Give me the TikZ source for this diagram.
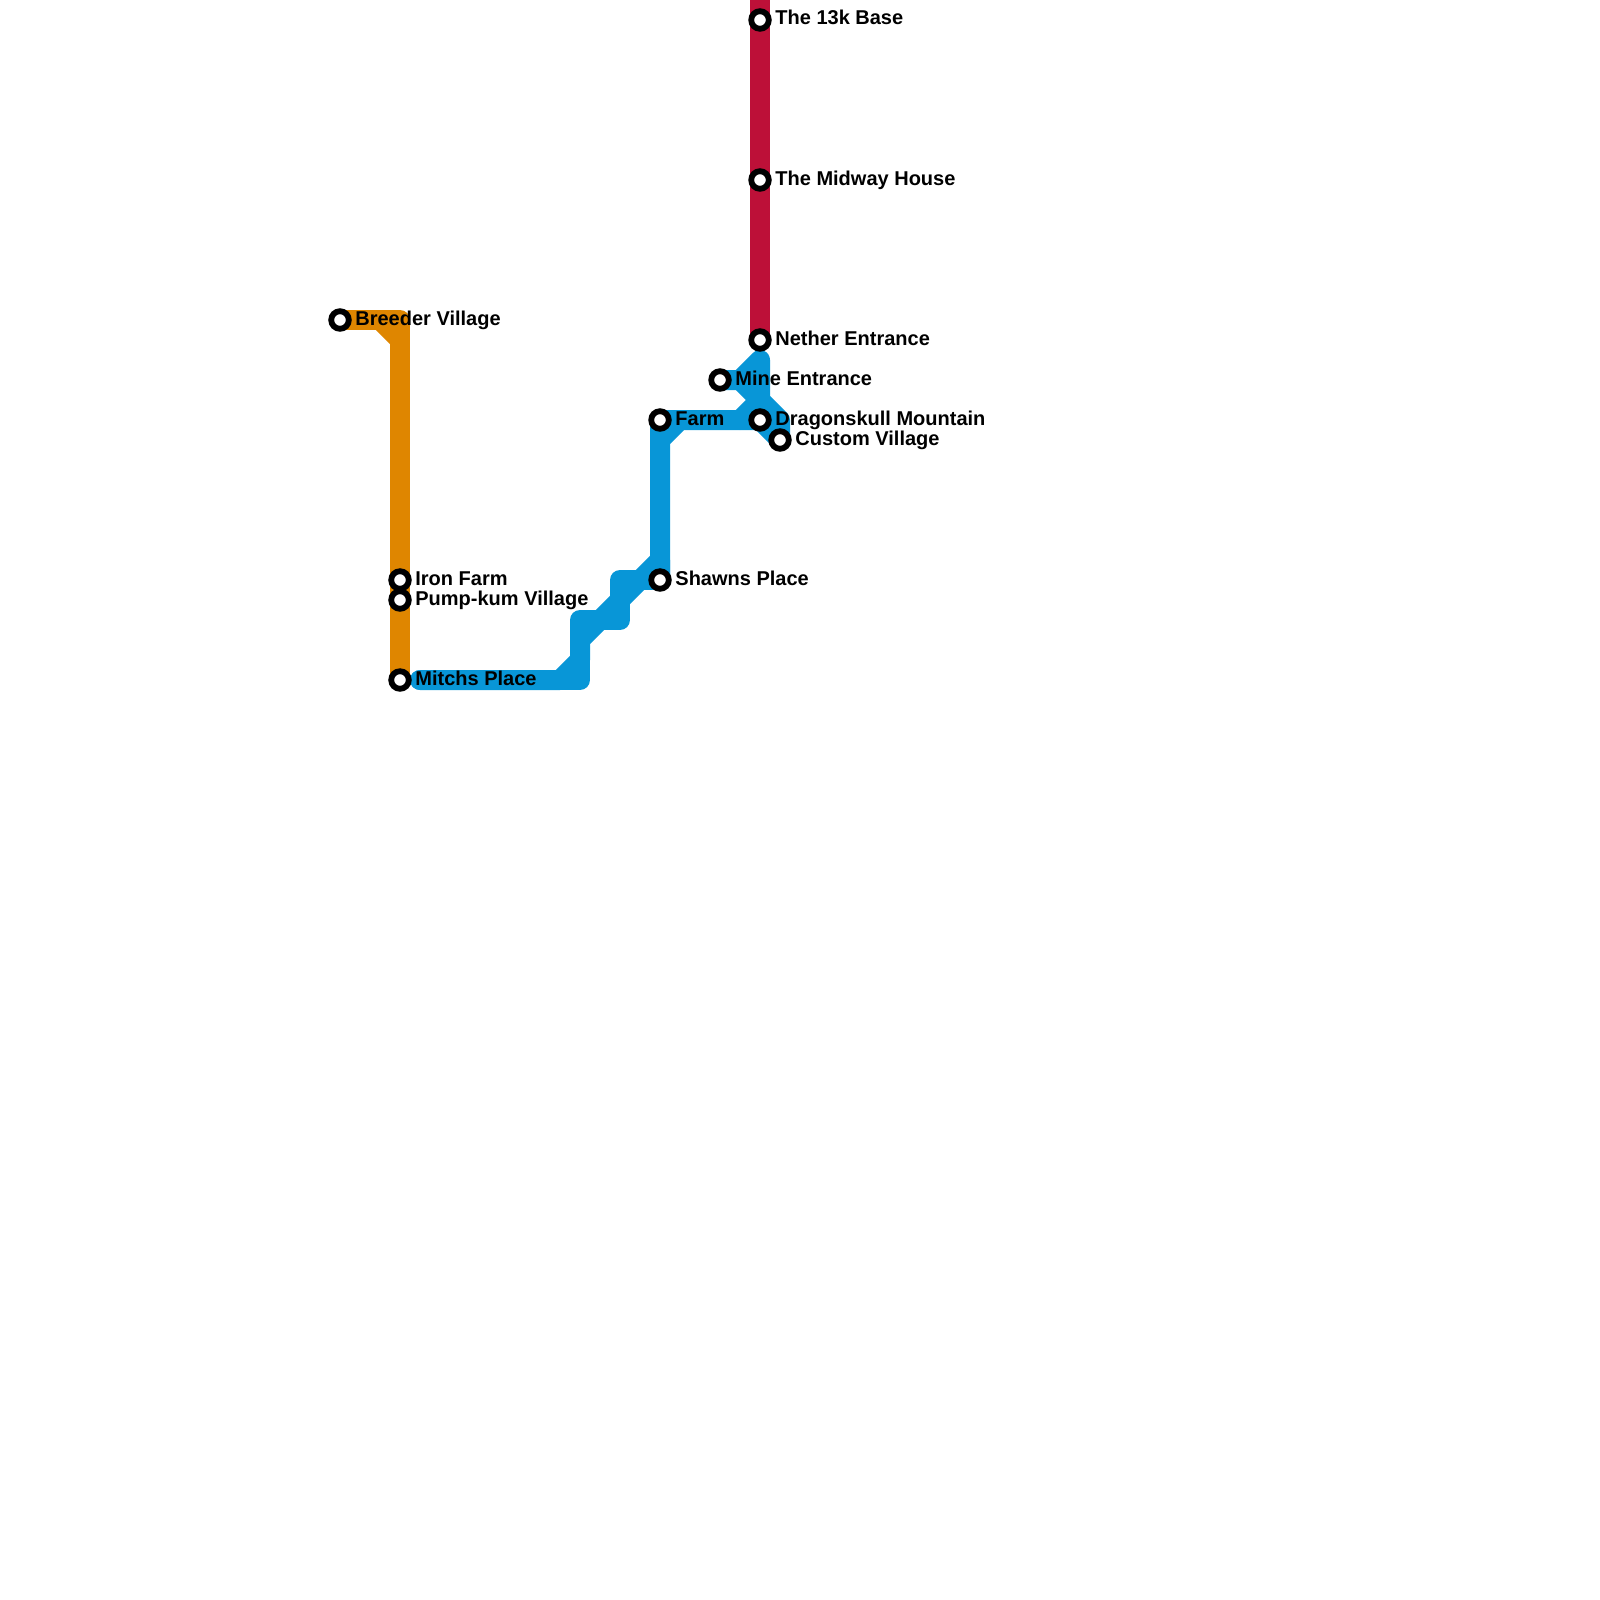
\documentclass[tikz,border=0pt]{standalone}
\usepackage{fontspec}
\setmainfont{Liberation Sans}
\usetikzlibrary{backgrounds}
\definecolor{lineRed}{HTML}{BD1038}
\definecolor{lineOrange}{HTML}{DF8600}
\definecolor{lineBlue}{HTML}{0896D7}
\tikzset{
  x=0.5pt,y=-0.5pt,
  stop/.style={circle,draw=black,fill=white,line width=2.9pt,minimum size=8.8pt,inner sep=0pt,outer sep=0pt},
  lbl/.style={anchor=base west,inner sep=0pt,font=\fontsize{10}{12}\selectfont\bfseries,text=black},
  route/.style={line width=10pt,line join=round,line cap=round},
  redroute/.style={line width=10pt,draw=lineRed},
  orangeroute/.style={route,draw=lineOrange},
  blueroute/.style={route,draw=lineBlue}
}
\begin{document}
\begin{tikzpicture}
\useasboundingbox (0,0) rectangle (1600,1600);
% stations
\node[stop] (k13) at (760,20) {};
\node[stop] (midway) at (760,180) {};
\node[stop] (nether) at (760,340) {};
\node[stop] (mine) at (720,380) {};
\node[stop] (dragon) at (760,420) {};
\node[stop] (custom) at (780,440) {};
\node[stop] (farm) at (660,420) {};
\node[stop] (shawns) at (660,580) {};
\node[stop] (breeder) at (340,320) {};
\node[stop] (iron) at (400,580) {};
\node[stop] (pump) at (400,600) {};
\node[stop] (mitchs) at (400,680) {};
% labels
\node[lbl] (t1) at (775,25) {The 13k Base};
\node[lbl] (t2) at (775,185) {The Midway House};
\node[lbl] (t3) at (775,345) {Nether Entrance};
\node[lbl] (t4) at (735,385) {Mine Entrance};
\node[lbl] (t5) at (775,425) {Dragonskull Mountain};
\node[lbl] (t6) at (795,445) {Custom Village};
\node[lbl] (t7) at (675,425) {Farm};
\node[lbl] (t8) at (675,585) {Shawns Place};
\node[lbl] (t9) at (355,325) {Breeder Village};
\node[lbl] (t10) at (415,585) {Iron Farm};
\node[lbl] (t11) at (415,605) {Pump-kum Village};
\node[lbl] (t12) at (415,685) {Mitchs Place};
% free ends and bends
\coordinate (top) at (760,0);
\coordinate (oa) at (400,320);
\coordinate (ob) at (380,320);
\coordinate (oc) at (400,340);
\coordinate (ma) at (420,680);
\coordinate (b1) at (580,680);
\coordinate (b2) at (580,620);
\coordinate (b3) at (620,620);
\coordinate (b4) at (620,580);
\coordinate (d1) at (560,680);
\coordinate (d2) at (580,660);
\coordinate (d3) at (580,640);
\coordinate (d4) at (660,560);
\coordinate (f1) at (660,440);
\coordinate (f2) at (680,420);
\coordinate (m1) at (740,380);
\coordinate (m2) at (760,360);
\coordinate (m3) at (760,400);
\coordinate (m4) at (740,420);
\coordinate (c1) at (780,420);
\begin{scope}[on background layer]
\draw[orangeroute] (breeder.center) -- (oa) -- (pump.center) -- (mitchs.center);
\draw[orangeroute,line cap=butt] (ob) -- (oc);
\draw[blueroute] (ma) -- (b1) -- (b2) -- (b3) -- (b4) -- (shawns.center) -- (farm.center) -- (dragon.center);
\draw[blueroute] (ma) -- (d1) -- (d2) -- (d3) -- (d4) -- (shawns.center);
\draw[blueroute] (shawns.center) -- (f1) -- (f2) -- (dragon.center);
\draw[blueroute] (mine.center) -- (m1) -- (m2) -- (m3) -- (c1) -- (custom.center);
\draw[blueroute] (m1) -- (m3) -- (m4);
\draw[blueroute] (dragon.center) -- (custom.center);
\draw[redroute] (top) -- (k13.center) -- (midway.center) -- (nether.center);
\end{scope}
\end{tikzpicture}
\end{document}
